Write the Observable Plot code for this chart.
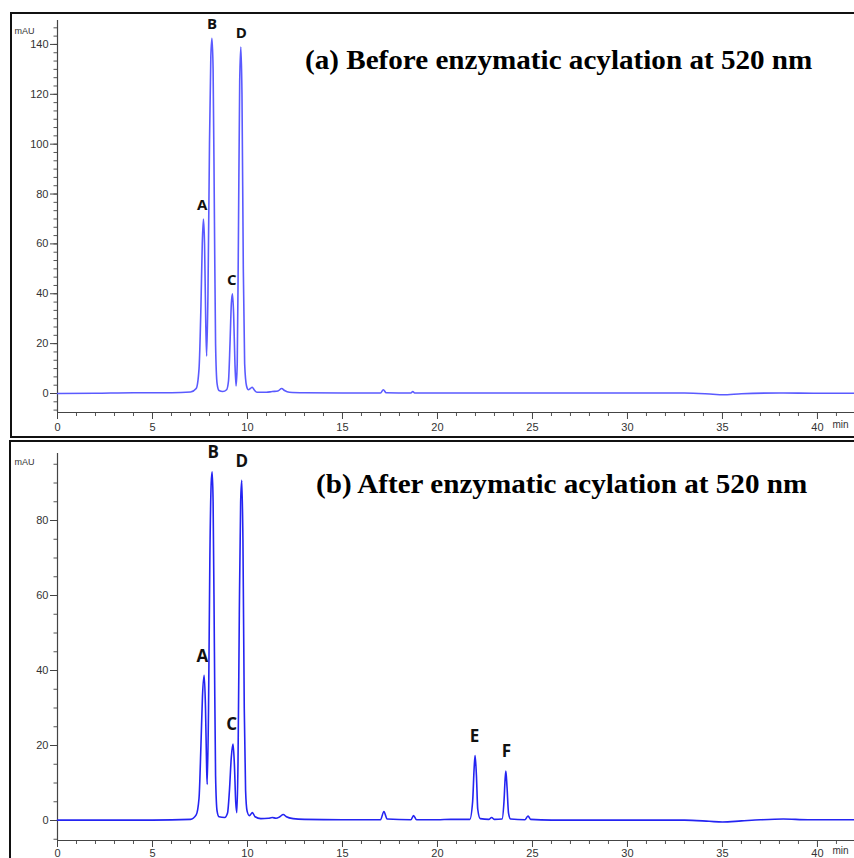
<!DOCTYPE html>
<html>
<head>
<meta charset="utf-8">
<script src="https://cdn.jsdelivr.net/npm/d3@7"></script>
<script src="https://cdn.jsdelivr.net/npm/@observablehq/plot@0.6"></script>
<style>
  body { margin: 0; background: #fff; }
  #wrap { position: relative; width: 854px; height: 858px; overflow: hidden; background: #fff; }
  .frame { position: absolute; border: 2px solid #111; box-sizing: border-box; }
  .title { position: absolute; font-family: "Liberation Serif", "Times New Roman", serif; font-weight: bold; font-size: 28px; line-height: 1; white-space: nowrap; color: #000; transform: scaleX(1.04); transform-origin: left top; }
  .panel { position: absolute; left: 0; }
</style>
</head>
<body>
<div id="wrap">
  <div class="frame" style="left:10px; top:12px; width:900px; height:426px;"></div>
  <div class="frame" style="left:9px; top:440px; width:900px; height:440px;"></div>
  <div id="pa" class="panel" style="top:0px;"></div>
  <div id="pb" class="panel" style="top:437px;"></div>
  <div class="title" style="left:305px; top:46px;">(a) Before enzymatic acylation at 520 nm</div>
  <div class="title" style="left:316px; top:470px;">(b) After enzymatic acylation at 520 nm</div>
</div>
<script>
// ---------- Data ----------
// Panel (a): before enzymatic acylation, retention time (min) and absorbance (mAU)
const timesA = [0, 2, 4, 6, 7.0, 7.3, 7.45, 7.55, 7.62, 7.68, 7.74, 7.80, 7.85, 7.92, 8.0, 8.07, 8.13, 8.19, 8.26, 8.32, 8.40, 8.5, 8.7, 8.9, 9.0, 9.08, 9.15, 9.21, 9.27, 9.34, 9.40, 9.46, 9.52, 9.59, 9.65, 9.71, 9.78, 9.85, 9.95, 10.05, 10.15, 10.25, 10.35, 10.5, 11.0, 11.3, 11.6, 11.8, 11.95, 12.2, 13, 15, 17.0, 17.15, 17.3, 18.6, 18.7, 18.8, 20, 25, 30, 33, 34.5, 35, 36, 38, 40, 41.95];
const valuesA = [0, 0.1, 0.3, 0.3, 0.6, 2, 10, 35, 60, 70, 60, 30, 15, 40, 100, 135, 142.5, 130, 70, 20, 4, 1.2, 0.8, 1.5, 5, 20, 36, 40, 32, 12, 3, 12, 60, 125, 139, 120, 50, 12, 3, 1.5, 2, 2.5, 1.5, 0.5, 0.5, 0.8, 1.0, 2, 1.2, 0.5, 0.3, 0.2, 0.2, 1.5, 0.3, 0.2, 0.8, 0.2, 0.2, 0.2, 0.2, 0.2, -0.3, -0.5, -0.1, 0.2, 0.1, 0.1];

// Panel (b): after enzymatic acylation
const timesB = [0, 5, 7.0, 7.3, 7.45, 7.55, 7.63, 7.72, 7.79, 7.85, 7.88, 7.95, 8.02, 8.09, 8.14, 8.19, 8.26, 8.32, 8.40, 8.5, 8.8, 8.95, 9.05, 9.15, 9.24, 9.31, 9.38, 9.44, 9.50, 9.57, 9.64, 9.70, 9.76, 9.83, 9.90, 9.98, 10.1, 10.26, 10.4, 10.7, 11.1, 11.3, 11.5, 11.7, 11.88, 12.05, 12.4, 13, 15, 17.0, 17.18, 17.35, 18.6, 18.74, 18.9, 20, 20.7, 21.7, 21.85, 21.93, 21.98, 22.05, 22.12, 22.25, 22.7, 22.85, 23.0, 23.4, 23.5, 23.56, 23.6, 23.66, 23.74, 23.85, 24.6, 24.77, 24.9, 26, 30, 33, 34.3, 35, 36, 37, 38.2, 39.5, 41.95];
const valuesB = [0.1, 0.1, 0.3, 1.5, 6, 20, 33, 38.7, 30, 14, 9.6, 30, 70, 90, 93, 85, 45, 12, 2.5, 1, 0.8, 2, 8, 17, 20.4, 15, 5, 2.1, 15, 55, 85, 90.7, 75, 30, 8, 2.5, 1.3, 2.1, 1.0, 0.5, 0.6, 0.8, 0.6, 1.0, 1.6, 1.0, 0.5, 0.3, 0.2, 0.2, 2.4, 0.4, 0.2, 1.3, 0.2, 0.2, 0.3, 0.3, 5, 14, 17.3, 12, 3, 0.5, 0.3, 0.8, 0.3, 0.4, 5, 11, 13.2, 9, 2, 0.4, 0.2, 1.2, 0.3, 0.1, 0.1, 0.1, -0.2, -0.4, -0.1, 0.2, 0.4, 0.2, 0.2];

// Peak annotations
const peakLabelsA = ["A", "B", "C", "D"];
const peakTimesA = [7.62, 8.13, 9.17, 9.68];
const peakHeightsA = [70, 142.5, 40, 139];

const peakLabelsB = ["A", "B", "C", "D", "E", "F"];
const peakTimesB = [7.62, 8.2, 9.17, 9.7, 21.95, 23.63];
const peakHeightsB = [38.7, 93, 20.4, 90.7, 17.3, 13.2];

// Axis ticks
const xTicks = [0, 5, 10, 15, 20, 25, 30, 35, 40];
const xMinorTicks = [1,2,3,4,6,7,8,9,11,12,13,14,16,17,18,19,21,22,23,24,26,27,28,29,31,32,33,34,36,37,38,39,41];
const yTicksA = [0, 20, 40, 60, 80, 100, 120, 140];
const yMinorStepA = 20 / 6;
const yTicksB = [0, 20, 40, 60, 80];
const yMinorStepB = 5;

const fontSans = "'Liberation Sans', Arial, sans-serif";
const fontLabel = "'Open Sans', 'Liberation Sans', Arial, sans-serif";

function panel(o) {
  const rows = o.times.map((t, i) => ({t, v: o.values[i]}));
  const peaks = o.labels.map((label, i) => ({label, t: o.peakTimes[i], h: o.peakHeights[i]}));
  const yMinor = d3.range(Math.ceil(o.yDomain[0] / o.yMinorStep) * o.yMinorStep, o.yDomain[1], o.yMinorStep);
  return Plot.plot({
    width: 854,
    height: o.height,
    marginLeft: 57,
    marginRight: 0,
    marginTop: o.marginTop,
    marginBottom: o.marginBottom,
    x: {domain: [0, 41.95], label: null},
    y: {domain: o.yDomain, label: null},
    style: {fontFamily: fontSans, background: "transparent", overflow: "visible"},
    marks: [
      Plot.axisY(yMinor, {tickSize: 3.5, tickFormat: () => "", stroke: "#555", label: null}),
      Plot.axisY(o.yTicks, {tickSize: 7, tickPadding: 2, fontSize: 11, fill: "#333", stroke: "#444", label: null}),
      Plot.axisX(xMinorTicks, {tickSize: 4, tickFormat: () => "", stroke: "#555", label: null}),
      Plot.axisX(xTicks, {tickSize: 7, tickPadding: o.xPad, fontSize: 11, fill: "#333", stroke: "#444", label: null}),
      Plot.ruleX([0], {stroke: "#444", strokeWidth: 1.2}),
      Plot.ruleY([o.yDomain[0]], {stroke: "#444", strokeWidth: 1.2}),
      Plot.text(["mAU"], {frameAnchor: "top-left", textAnchor: "start", dx: -43, dy: o.mauDy, fontSize: 9, fill: "#333"}),
      Plot.text(["min"], {frameAnchor: "bottom-right", textAnchor: "end", dx: -6, dy: o.minDy, fontSize: 10, fill: "#333"}),
      Plot.line(rows, {x: "t", y: "v", stroke: o.color, strokeWidth: 1.6, curve: "monotone-x"}),
      Plot.text(peaks, {x: "t", y: "h", text: "label", dy: o.labelDy, fontSize: o.labelSize, fontWeight: "bold", fill: "#111", fontFamily: fontLabel})
    ]
  });
}

document.getElementById("pa").appendChild(panel({
  times: timesA, values: valuesA, labels: peakLabelsA, peakTimes: peakTimesA, peakHeights: peakHeightsA,
  height: 437, marginTop: 20, marginBottom: 25, yDomain: [-7.62, 149.6],
  yTicks: yTicksA, yMinorStep: yMinorStepA, color: "#5a5aff", labelSize: 15, labelDy: -14,
  mauDy: 7, minDy: 15, xPad: 4
}));

document.getElementById("pb").appendChild(panel({
  times: timesB, values: valuesB, labels: peakLabelsB, peakTimes: peakTimesB, peakHeights: peakHeightsB,
  height: 421, marginTop: 16, marginBottom: 18, yDomain: [-5.33, 97.87],
  yTicks: yTicksB, yMinorStep: yMinorStepB, color: "#2424f2", labelSize: 17, labelDy: -19,
  mauDy: 5, minDy: 13, xPad: 2
}));
</script>
</body>
</html>
